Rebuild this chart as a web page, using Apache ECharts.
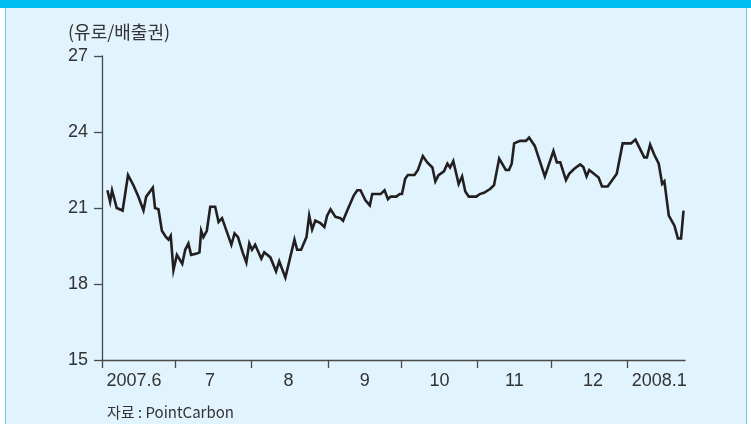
<!DOCTYPE html>
<html>
<head>
<meta charset="utf-8">
<script src="https://cdn.jsdelivr.net/npm/echarts@6/dist/echarts.min.js"></script>
<style>
  html, body { margin: 0; padding: 0; background: #ffffff; }
  #chart { width: 751px; height: 424px; }
</style>
</head>
<body>
<div id="chart"></div>
<script>
// days since 2007-06-01 and EUA price (euro / allowance)
var days = [2.2, 3.3, 4.1, 6.0, 8.4, 10.6, 12.8, 14.8, 16.9, 18.0, 20.7, 21.6, 23.0, 24.4, 26.1, 27.1, 28.0, 29.1, 30.5, 32.7,
  33.9, 35.2, 36.3, 38.6, 39.7, 40.4, 41.3, 42.7, 44.1, 46.1, 47.5, 48.9, 50.9, 52.7, 54.0, 55.4, 57.3, 58.8, 60.0, 61.1,
  62.4, 64.9, 66.1, 68.6, 70.9, 72.2, 74.7, 78.4, 79.5, 81.1, 83.3, 84.4, 85.6, 86.9, 89.0, 90.6, 91.7, 93.1, 95.1, 97.1,
  98.2, 99.9, 102.6, 104.0, 105.3, 107.3, 109.1, 110.1, 113.5, 115.1, 116.5, 117.6, 119.9, 121.3, 122.2, 123.5, 124.6, 127.3, 128.7, 130.7,
  132.5, 134.6, 135.8, 137.1, 139.3, 140.7, 141.8, 143.1, 145.3, 146.7, 148.0, 149.4, 152.5, 153.9, 155.6, 158.1, 159.7, 161.8, 164.5, 165.8,
  166.9, 167.9, 170.3, 172.7, 174.0, 176.3, 180.4, 183.9, 185.3, 186.7, 189.0, 190.3, 192.4, 194.8, 196.1, 197.4, 198.5, 202.3, 203.7, 206.0,
  209.7, 212.1, 215.5, 217.3, 220.9, 222.0, 223.3, 225.0, 226.8, 228.2, 229.1, 229.8, 230.9, 233.2, 234.6, 235.9, 236.9];
var prices = [21.7, 21.25, 21.7, 21.0, 20.9, 22.3, 21.9, 21.45, 20.9, 21.45, 21.8, 21.0, 20.95, 20.1, 19.85, 19.75, 19.9, 18.55, 19.15, 18.8,
  19.35, 19.6, 19.15, 19.2, 19.25, 20.1, 19.85, 20.1, 21.05, 21.05, 20.45, 20.6, 20.05, 19.55, 20.0, 19.85, 19.25, 18.85, 19.6, 19.35,
  19.55, 19.0, 19.25, 19.05, 18.5, 18.9, 18.25, 19.75, 19.35, 19.35, 19.85, 20.7, 20.15, 20.5, 20.4, 20.25, 20.7, 20.95, 20.65, 20.6,
  20.5, 20.9, 21.5, 21.7, 21.7, 21.3, 21.1, 21.55, 21.55, 21.7, 21.35, 21.45, 21.45, 21.55, 21.55, 22.15, 22.3, 22.3, 22.5, 23.05,
  22.8, 22.6, 22.05, 22.3, 22.45, 22.75, 22.6, 22.85, 21.95, 22.25, 21.65, 21.45, 21.45, 21.55, 21.6, 21.75, 21.9, 22.95, 22.5, 22.5,
  22.75, 23.55, 23.65, 23.65, 23.78, 23.45, 22.25, 23.25, 22.8, 22.8, 22.1, 22.35, 22.55, 22.72, 22.62, 22.25, 22.5, 22.2, 21.85, 21.85,
  22.35, 23.55, 23.55, 23.7, 23.0, 23.0, 23.5, 23.1, 22.75, 21.95, 22.05, 22.05, 20.7, 20.3, 19.8, 19.8, 20.9];

var monthTicks = [0, 30, 61, 92, 122, 153, 183, 214];
var monthLabelDays = [13, 44, 76, 107, 137.5, 168, 200, 227];
var monthLabels = ['2007.6', '7', '8', '9', '10', '11', '12', '2008.1'];
var yTicks = [15, 18, 21, 24, 27];

var ink = '#333333';
var axisColor = '#4a4a4a';
var numFont = '"Liberation Sans Narrow", "Liberation Sans", Arial, sans-serif';
var krFont = '"Noto Sans CJK KR", sans-serif';

var chart = echarts.init(document.getElementById('chart'), null, { renderer: 'canvas' });
chart.setOption({
  animation: false,
  backgroundColor: '#e1f3fc',
  title: [
    { text: '(유로/배출권)', left: 63, top: 18, textStyle: { fontFamily: krFont, fontSize: 18, fontWeight: 'normal', color: ink } },
    { text: '자료 : PointCarbon', left: 102, top: 400, textStyle: { fontFamily: krFont, fontSize: 15, fontWeight: 'normal', color: ink } }
  ],
  graphic: [
    { type: 'rect', shape: { x: 0, y: 0, width: 751, height: 8 }, style: { fill: '#00bef2' } },
    { type: 'rect', shape: { x: 5, y: 8, width: 1, height: 416 }, style: { fill: '#6fcdf0' } },
    { type: 'rect', shape: { x: 746, y: 8, width: 1, height: 416 }, style: { fill: '#6fcdf0' } },
    { type: 'rect', shape: { x: 0, y: 8, width: 5, height: 416 }, style: { fill: '#ffffff' } },
    { type: 'rect', shape: { x: 747, y: 8, width: 4, height: 416 }, style: { fill: '#ffffff' } }
  ],
  grid: { left: 102, right: 66, top: 56, bottom: 64, containLabel: false },
  xAxis: {
    type: 'value',
    min: 0,
    max: 237.5,
    axisLine: { show: true, lineStyle: { color: axisColor, width: 1.3 } },
    axisTick: { show: true, inside: false, length: 8, customValues: monthTicks, lineStyle: { color: axisColor, width: 1.3 } },
    axisLabel: {
      customValues: monthLabelDays,
      margin: 12,
      color: ink,
      fontFamily: numFont,
      fontSize: 18,
      formatter: function (v) {
        var i = monthLabelDays.indexOf(v);
        return i >= 0 ? monthLabels[i] : '';
      }
    },
    splitLine: { show: false }
  },
  yAxis: {
    type: 'value',
    min: 15,
    max: 27,
    interval: 3,
    axisLine: { show: true, lineStyle: { color: axisColor, width: 1.3 } },
    axisTick: { show: true, inside: false, length: 8, lineStyle: { color: axisColor, width: 1.3 } },
    axisLabel: {
      customValues: yTicks,
      margin: 14,
      color: ink,
      fontFamily: numFont,
      fontSize: 18
    },
    splitLine: { show: false }
  },
  series: [{
    type: 'line',
    data: days.map(function (d, i) { return [d, prices[i]]; }),
    showSymbol: false,
    symbol: 'none',
    lineStyle: { color: '#231f20', width: 2.6, join: 'miter' }
  }]
});
</script>
</body>
</html>
